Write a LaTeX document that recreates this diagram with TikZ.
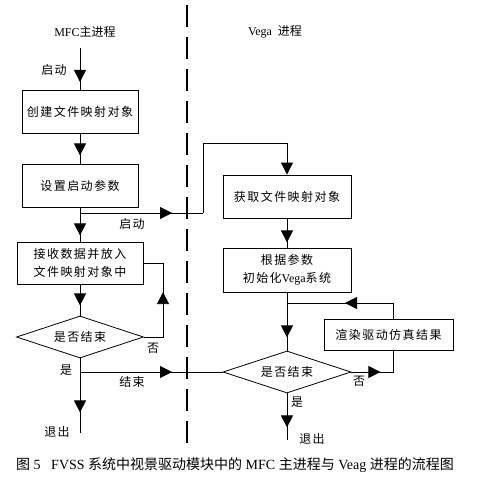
\documentclass[tikz,border=0pt]{standalone}
\usepackage{fontspec}
\setmainfont{Liberation Serif}
\newfontfamily\cjk[LetterSpace=12]{Noto Sans CJK SC}
\newfontfamily\cjkc{Noto Sans CJK SC}
\usetikzlibrary{shapes.geometric,arrows.meta,decorations.markings}
\begin{document}
\begin{tikzpicture}[x=1pt,y=-1pt,
 box/.style={draw,line width=0.8pt,inner sep=0pt,align=center,font=\fontsize{12}{18}\selectfont},
 dia/.style={draw,diamond,line width=0.8pt,inner sep=0pt,aspect=3,font=\fontsize{12}{14}\selectfont},
 lbl/.style={inner sep=0pt,font=\fontsize{12}{14}\selectfont},
 flow/.style={line width=0.8pt},
 tip/.style={-{Triangle[width=12pt,length=12pt]}},
 midarr/.style={postaction={decorate},decoration={markings,mark=at position #1 with {\arrow{Triangle[width=12pt,length=12pt]}}}},
]
\useasboundingbox (0,0) rectangle (483,489);

% titles
\node[lbl] (t1) at (85,32) {MFC{\cjkc 主进程}};
\node[lbl] (t2) at (275,32) {Vega\ \ {\cjkc 进程}};

% dashed separator
\coordinate (s1) at (187,5);
\coordinate (s2) at (187,447);
\draw[line width=2.6pt,dash pattern=on 22pt off 10pt] (s1) -- (s2);

% MFC column
\node[box,minimum width=116pt,minimum height=43pt] (b1) at (80,111.5) {\cjk 创建文件映射对象};
\node[box,minimum width=116pt,minimum height=43pt] (b2) at (80,185.5) {\cjk 设置启动参数};
\node[box,minimum width=126pt,minimum height=42pt] (b3) at (80,263) {\cjk 接收数据并放入\\\cjk 文件映射对象中};
\node[dia,minimum width=127pt,minimum height=42pt] (d1) at (80,337) {\cjk 是否结束};

% Vega column
\node[box,minimum width=128pt,minimum height=43pt] (v1) at (287,196.5) {\cjk 获取文件映射对象};
\node[box,minimum width=128pt,minimum height=44pt] (v2) at (287,270) {\cjk 根据参数\\{\cjk 初始化}Vega{\cjk 系统}};
\node[dia,minimum width=128pt,minimum height=42pt] (d2) at (287,372) {\cjk 是否结束};
\node[box,minimum width=129pt,minimum height=31pt] (r) at (388.5,334.5) {\cjk 渲染驱动仿真结果};

% coordinates
\coordinate (start) at (80,48);
\coordinate (j1) at (80,213);
\coordinate (c1) at (203,213);
\coordinate (c2) at (203,143);
\coordinate (c3) at (163,337);
\coordinate (c4) at (163,263);
\coordinate (j3) at (80,372);
\coordinate (e1) at (80,433);
\coordinate (e2) at (287,440);
\coordinate (c5) at (393,372);
\coordinate (c6) at (393,350);
\coordinate (c7) at (393,319);
\coordinate (c8) at (393,303);
\coordinate (j2) at (287,303);

% MFC flow
\draw[flow,midarr=34pt] (start) -- (b1);
\draw[flow,midarr=22pt] (b1) -- (b2);
\draw[flow,midarr=28pt] (b2) -- (b3);
\draw[flow,midarr=21pt] (b3) -- (d1);
\draw[flow,midarr=54pt] (d1) -- (e1);
\draw[flow,midarr=64pt] (d1.east) -- (c3) -- (c4) -- (b3.east);
\draw[flow,midarr=92pt] (j1) -- (c1);
\draw[flow,tip] (c1) -- (c2) -| (v1);
\draw[flow,midarr=92pt] (j3) -- (d2.west);

% Vega flow
\draw[flow,midarr=24pt] (v1) -- (v2);
\draw[flow,midarr=45pt] (v2) -- (d2);
\draw[flow,midarr=34pt] (d2) -- (e2);
\draw[flow,midarr=29pt] (d2.east) -- (c5) -- (c6);
\draw[flow,midarr=64pt] (c7) -- (c8) -- (j2);

% labels
\node[lbl] (l1) at (54,70) {\cjk 启动};
\node[lbl] (l2) at (132,224) {\cjk 启动};
\node[lbl] (l3) at (153,348) {\cjk 否};
\node[lbl] (l4) at (66,370) {\cjk 是};
\node[lbl] (l5) at (132,382) {\cjk 结束};
\node[lbl] (l6) at (57,432) {\cjk 退出};
\node[lbl] (l7) at (359,381) {\cjk 否};
\node[lbl] (l8) at (297,402) {\cjk 是};
\node[lbl] (l9) at (312,439) {\cjk 退出};

% caption
\node[inner sep=0pt,font=\fontsize{14}{16}\selectfont] (cap) at (235,465)
 {{\cjkc 图} 5\ \ \ FVSS {\cjkc 系统中视景驱动模块中的} MFC {\cjkc 主进程与} Veag {\cjkc 进程的流程图}};
\end{tikzpicture}
\end{document}
